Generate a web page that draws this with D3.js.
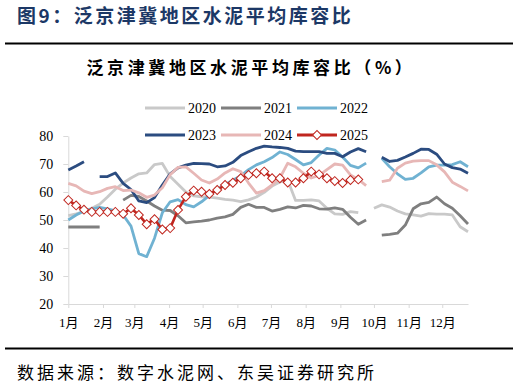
<!DOCTYPE html>
<html>
<head>
<meta charset="utf-8">
<script src="https://cdn.jsdelivr.net/npm/d3@7"></script>
<style>
body { margin: 0; background: #fff; }
</style>
</head>
<body>
<svg id="chart" width="518" height="387"></svg>
<script>
var years = ["2020", "2021", "2022", "2023", "2024", "2025"];
var colors = ["#c9c9c9", "#7f7f7f", "#70b2d2", "#2b4c80", "#e7b7b6", "#c0261f"];
var yTickVals = [20, 30, 40, 50, 60, 70, 80];

// weekly readings, one value per week from 1 Jan; null = no report
var v2020 = [51.6, 52.2, 53, 54.2, 55.6, 58.2, 61, 63.2, 65, 66.5,
             66.8, 69.8, 70.2, 65.5, 62.8, 60, 58.6, 58.3, 58.2, 57.8,
             57.4, 57.1, 56.6, 57.2, 58.2, 59.9, 62.1, 63.6, 64.2, 57,
             57, 57.2, 56.8, 54.2, 52.2, 52, 53, 52.6, null, 54.2,
             55.4, 54.6, 53.2, 52.2, 51.8, 51.4, 52.3, 52.1, 52.1, 51.8,
             47.6, 45.8];
var v2021 = [47.5, 47.5, 47.5, 47.5, 47.5, null, null, 57.1, 58.8, 58.4,
             56.8, 55, 53.5, 53.4, 51.5, 49, 49.3, 49.6, 50, 50.7,
             51.1, 52, 54.5, 55.6, 54.5, 54.5, 53.2, 53.8, 54.7, 54.3,
             55.2, 55, 54, 53.9, 54.3, 53.8, 51, 48.5, 50, null,
             44.6, 44.9, 45.3, 48.2, 54, 55.8, 56.3, 58.2, 55.8, 54.2,
             51.5, 48.6];
var v2022 = [50, 51.8, 53.2, 54, 54.5, 54, 53.3, 51.8, 47.8, 38,
             36.9, 43.5, 52.6, 56.5, 57.3, 55.5, 54.7, 56.5, 58.8, 61,
             62.7, 64.2, 65.8, 68, 69.7, 70.8, 72.3, 74.3, 73.4, 71.6,
             69.7, 70.5, 73.2, 75.6, 75, 72.5, 69.5, 68.6, 70.3, null,
             72, 69, 66.5, 64.5, 64.9, 66.8, 69, 69.6, 69.6, 69.8,
             70.8, 69];
var v2023 = [67.9, 69.3, 70.8, null, 65.5, 65.5, 66.8, 63.1, 60.9, 56.8,
             56.2, 58, 62.5, 66.5, 68.6, 69.6, 70.2, 70.1, 70, 69,
             69.3, 70.6, 73, 74.4, 75.6, 76.4, 76.1, 75.9, 75.6, 74.6,
             74.4, 74.4, 74.4, 73.8, 73.8, 72.6, 74.3, 75.5, 74.4, null,
             72.4, 70.9, 71.3, 72.5, 73.8, 75.3, 75.2, 73.5, 70, 68.7,
             68.2, 66.7];
var v2024 = [63.1, 62.2, 60.3, 59.4, 60.1, 61.3, 61.9, 60.5, 60.7, 59.7,
             58.1, 58.9, 61.5, 66.2, 68.8, 69, 66.7, 64.3, 63.2, 64.6,
             66.8, 68.3, 67.3, 63.2, 59.6, 60.5, 62.5, 65, 70.3, 69,
             66.7, 65, 65.9, 68, 70, 69.6, 66.1, 64.5, 62.3, null,
             63.7, 64.2, 68.5, 70.3, 71, 71.2, 71.2, 69.7, 67.2, 63.5,
             62, 60.4];
var v2025 = [57.1, 55.2, 53.7, 52.9, 52.9, 52.9, 52.9, 52.2, 54.2, 51.8,
             48.5, 50.3, 46.6, 47.1, 53.6, 58.3, 60.5, 60.1, 59.3, 60.7,
             62.5, 63.3, 64.9, 66.1, 66.7, 67.3, 64.9, 64.9, 63.4, 63.4,
             64.9, 67.3, 66.3, 64.9, 63.9, 63.2, 64.3, 64.5];

var allSeries = [v2020, v2021, v2022, v2023, v2024, v2025];

var PLOT_L = 68.3, PLOT_R = 468, PLOT_T = 136, PLOT_B = 304;
var SERIF = "'Times New Roman', 'Liberation Serif', 'Noto Sans CJK SC', serif";
var CJK = "'Noto Sans CJK SC', sans-serif";
var AXIS_COL = "#d9d9d9";

var yearStart = new Date(2001, 0, 1);

var x = d3.scaleTime()
    .domain([yearStart, new Date(2001, 11, 24)])
    .range([PLOT_L, PLOT_R]);

var y = d3.scaleLinear()
    .domain([d3.min(yTickVals), d3.max(yTickVals)])
    .range([PLOT_B, PLOT_T]);

function week_date(i) {
    return d3.timeDay.offset(yearStart, 7 * i);
}

function draw_frame(svg) {
    svg.append("text")
        .attr("x", 17)
        .attr("y", 23)
        .text("图9：泛京津冀地区水泥平均库容比")
        .style("font-family", CJK)
        .style("font-weight", "bold")
        .style("font-size", "19px")
        .style("letter-spacing", "2.5px")
        .style("fill", "#1c3866");

    svg.append("line")
        .attr("x1", 5).attr("x2", 513)
        .attr("y1", 43.5).attr("y2", 43.5)
        .style("stroke", "#000")
        .style("stroke-width", 2);

    svg.append("text")
        .attr("x", 251)
        .attr("y", 74)
        .attr("text-anchor", "middle")
        .text("泛京津冀地区水泥平均库容比（%）")
        .style("font-family", CJK)
        .style("font-weight", "bold")
        .style("font-size", "17px")
        .style("letter-spacing", "3.6px")
        .style("fill", "#000");

    svg.append("line")
        .attr("x1", 5).attr("x2", 513)
        .attr("y1", 348.5).attr("y2", 348.5)
        .style("stroke", "#000")
        .style("stroke-width", 2);

    svg.append("text")
        .attr("x", 17)
        .attr("y", 379)
        .text("数据来源：数字水泥网、东吴证券研究所")
        .style("font-family", CJK)
        .style("font-size", "17px")
        .style("letter-spacing", "3px")
        .style("fill", "#000");
}

function draw_axes(svg) {
    var yAxis = d3.axisLeft(y)
        .tickValues(yTickVals)
        .tickSize(5)
        .tickSizeOuter(0)
        .tickPadding(10);

    var gy = svg.append("g")
        .attr("transform", "translate(" + PLOT_L + ",0)")
        .call(yAxis);
    gy.selectAll("path, line").style("stroke", AXIS_COL);
    gy.selectAll("text")
        .style("font-family", SERIF)
        .style("font-size", "14px")
        .style("fill", "#000");

    var xAxis = d3.axisBottom(x)
        .ticks(d3.timeMonth.every(1))
        .tickFormat(function(d) { return (d.getMonth() + 1) + "月"; })
        .tickSize(4)
        .tickSizeOuter(0)
        .tickPadding(10);

    var gx = svg.append("g")
        .attr("transform", "translate(0," + PLOT_B + ")")
        .call(xAxis);
    gx.selectAll("path, line").style("stroke", AXIS_COL);
    gx.selectAll("text")
        .style("font-family", SERIF)
        .style("font-size", "13px")
        .style("fill", "#000");
}

function draw_lines(svg) {
    var line = d3.line()
        .defined(function(d) { return d != null; })
        .x(function(d, i) { return x(week_date(i)); })
        .y(function(d) { return y(d); });

    allSeries.forEach(function(vals, k) {
        svg.append("path")
            .datum(vals)
            .attr("d", line)
            .style("fill", "none")
            .style("stroke", colors[k])
            .style("stroke-width", k == 5 ? 2.6 : 2.8)
            .style("stroke-linejoin", "round");
    });

    var diamond = d3.symbol().type(d3.symbolSquare).size(40);

    svg.selectAll(".mk2025")
        .data(v2025)
        .enter()
        .append("path")
        .attr("class", "mk2025")
        .attr("d", diamond)
        .attr("transform", function(d, i) {
            return "translate(" + x(week_date(i)) + "," + y(d) + ") rotate(45)";
        })
        .style("fill", "#fff")
        .style("stroke", colors[5])
        .style("stroke-width", 1);
}

function add_legend(svg) {
    var leg = svg.append("g");
    years.forEach(function(yr, k) {
        var lx = 145 + (k % 3) * 76;
        var ly = 108 + Math.floor(k / 3) * 27;

        leg.append("line")
            .attr("x1", lx).attr("x2", lx + 40)
            .attr("y1", ly).attr("y2", ly)
            .style("stroke", colors[k])
            .style("stroke-width", 2.8);

        if (k == 5) {
            leg.append("path")
                .attr("d", d3.symbol().type(d3.symbolSquare).size(40))
                .attr("transform", "translate(" + (lx + 20) + "," + ly + ") rotate(45)")
                .style("fill", "#fff")
                .style("stroke", colors[5])
                .style("stroke-width", 1);
        }

        leg.append("text")
            .attr("x", lx + 43)
            .attr("y", ly)
            .attr("dy", "0.35em")
            .text(yr)
            .style("font-family", SERIF)
            .style("font-size", "14px")
            .style("fill", "#000");
    });
}

var svg = d3.select("#chart");
draw_frame(svg);
draw_axes(svg);
draw_lines(svg);
add_legend(svg);
</script>
</body>
</html>
